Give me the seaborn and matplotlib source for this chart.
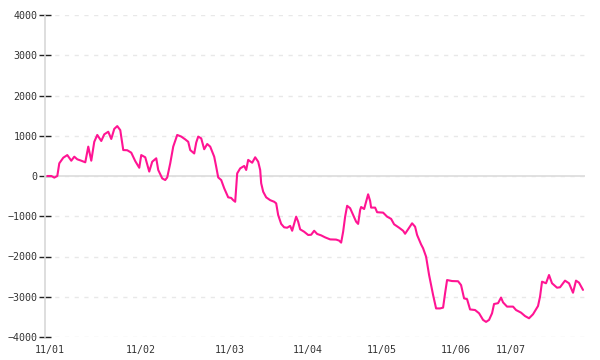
import matplotlib
matplotlib.use("Agg")
import matplotlib.pyplot as plt
import seaborn as sns
import pandas as pd

# sample position (index along the series) and value
sample_idx = [0, 2, 3.5, 5, 6, 8, 10, 12, 13.5, 15, 17, 19, 20.5, 22, 23.5, 25, 27, 28.5,
              30.5, 32, 33.5, 35, 36.5, 38, 40, 42, 44, 46, 47, 49, 51, 52.5, 54.5, 55.5,
              57.5, 59, 60, 61.5, 63, 65, 67, 69, 70.5, 71.5, 73.5, 74.5, 75.5, 77, 78.5,
              80, 81.5, 83.5, 84.5, 85.5, 87, 88.5, 90.5, 92, 93, 94, 95, 96.5, 98.5, 99.5,
              100.5, 102.5, 104, 105.5, 106.5, 107, 108, 109.5, 111.5, 113.5, 114.5, 115.5,
              117, 118.5, 120, 121.5, 122.5, 124.5, 125.5, 126.5, 128.5, 130.5, 132, 133.5,
              135, 137, 139, 141.5, 144.5, 146, 147, 148, 149, 150, 151.5, 153, 154.5, 155.5,
              156.5, 157, 158.5, 159.5, 160.5, 161.5, 162, 164, 165, 168, 170, 172, 173.5,
              176, 178, 179, 181, 182.5, 184, 185, 187, 188, 189.5, 191, 193, 194.5, 196.5,
              198, 199, 200, 202.5, 205.5, 207, 208.5, 210, 211.5, 214, 216, 218, 219.5, 221,
              222.5, 223.5, 225.5, 227, 228, 230, 233, 234.5, 237, 239, 241, 243, 245.5,
              246.5, 247.5, 249.5, 251, 252.5, 255, 256.5, 259, 261, 263, 264.5, 266, 268]
values = [0, 0, -40, 0, 315, 455, 520, 380, 480, 415, 380, 340, 730, 380, 850, 1020, 870, 1035,
          1100, 920, 1170, 1240, 1140, 645, 640, 580, 370, 205, 520, 465, 110, 355, 440, 150,
          -60, -100, -35, 315, 730, 1020, 980, 910, 850, 645, 560, 830, 980, 935, 665,
          795, 730, 480, 230, -35, -100, -305, -530, -545, -600, -640, 65, 190, 250, 150,
          400, 330, 465, 355, 150, -180, -390, -530, -600, -640, -680, -970,
          -1190, -1275, -1285, -1240, -1360, -1010, -1135, -1325, -1385, -1465, -1460, -1360,
          -1440, -1475, -1525, -1575, -1580, -1605, -1655, -1385, -1010, -740, -800, -970, -1135, -1190,
          -845, -770, -820, -640, -455, -620, -785, -785, -900, -910, -1010, -1065, -1200,
          -1285, -1360, -1435, -1285, -1175, -1260, -1465, -1700, -1795, -2005, -2460, -2955, -3290, -3290,
          -3270, -2915, -2585, -2610, -2615, -2710, -3040, -3060, -3315, -3330, -3410, -3575, -3625, -3575,
          -3410, -3180, -3160, -3020, -3140, -3245, -3245, -3330, -3395, -3480, -3535, -3435, -3230,
          -3000, -2625, -2665, -2460, -2665, -2775, -2765, -2600, -2665, -2900, -2600, -2650, -2830]

date_labels = ["11/01", "11/02", "11/03", "11/04", "11/05", "11/06", "11/07"]
date_pos = [1, 47, 91.5, 130.5, 167.5, 204.5, 232]
y_ticks = [-4000, -3000, -2000, -1000, 0, 1000, 2000, 3000, 4000]

df = pd.DataFrame({"idx": sample_idx, "value": values})

sns.set_style("white")
plt.rcParams["font.family"] = ["DejaVu Sans Mono", "DejaVu Sans"]

fig = plt.figure(figsize=(6, 3.6), dpi=100)
ax = fig.add_axes([0.0755, 0.0639, 0.8995, 0.8944])

ax.grid(axis="y", linestyle=(0, (3, 4)), color="#e8e8e8", linewidth=1)
ax.axhline(0, color="#dcdcdc", linewidth=1.2, zorder=1)

sns.lineplot(data=df, x="idx", y="value", color="#ff1493", linewidth=1.5, ax=ax, zorder=3)

ax.set_xlim(-1, 269)
ax.set_ylim(-4000, 4000)
ax.set_yticks(y_ticks)
ax.set_yticklabels([str(t).replace("-", "\u2212") for t in y_ticks])
ax.set_xticks(date_pos)
ax.set_xticklabels(date_labels)
ax.set_xlabel("")
ax.set_ylabel("")

for s in ["top", "right", "bottom"]:
    ax.spines[s].set_visible(False)
ax.spines["left"].set_color("#d8d8d8")
ax.spines["left"].set_linewidth(1.2)

ax.tick_params(axis="y", direction="inout", length=8, width=1, color="#222222",
               labelsize=7.2, labelcolor="#333333", pad=1.5, left=True)
ax.tick_params(axis="x", length=0, labelsize=7.2, labelcolor="#333333", pad=6)

fig.savefig("out.png", dpi=100)
